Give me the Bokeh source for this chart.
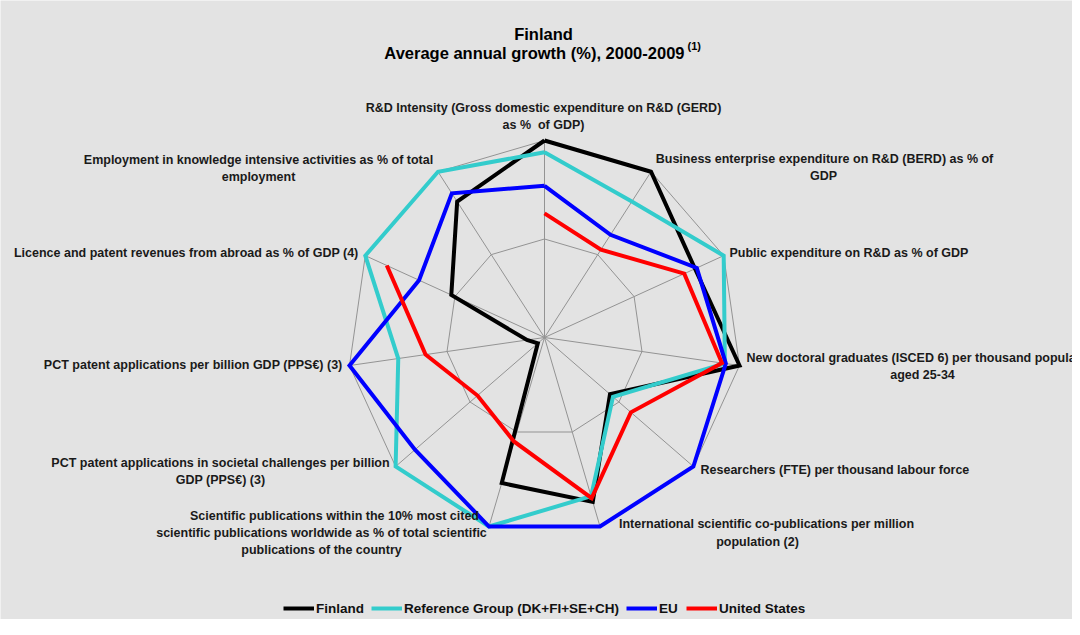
import math
from bokeh.plotting import figure
from bokeh.models import Range1d, Legend, LegendItem
from bokeh.core.properties import value
from bokeh.embed import file_html
from bokeh.resources import INLINE

# ---------------- data ----------------
indicators = [
    "R&D Intensity (Gross domestic expenditure on R&D (GERD) as %  of GDP)",
    "Business enterprise expenditure on R&D (BERD) as % of GDP",
    "Public expenditure on R&D as % of GDP",
    "New doctoral graduates (ISCED 6) per thousand population aged 25-34",
    "Researchers (FTE) per thousand labour force",
    "International scientific co-publications per million population (2)",
    "Scientific publications within the 10% most cited scientific publications worldwide as % of total scientific publications of the country",
    "PCT patent applications in societal challenges per billion GDP (PPS€) (3)",
    "PCT patent applications per billion GDP (PPS€) (3)",
    "Licence and patent revenues from abroad as % of GDP (4)",
    "Employment in knowledge intensive activities as % of total employment",
]

# label text as wrapped in the chart
indicator_lines = [
    ["R&D Intensity (Gross domestic expenditure on R&D (GERD)", "as %\u00a0 of GDP)"],
    ["Business enterprise expenditure on R&D (BERD) as % of", "GDP"],
    ["Public expenditure on R&D as % of GDP"],
    ["New doctoral graduates (ISCED 6) per thousand population", "aged 25-34"],
    ["Researchers (FTE) per thousand labour force"],
    ["International scientific co-publications per million", "population (2)"],
    ["Scientific publications within the 10% most cited",
     "scientific publications worldwide as % of total scientific",
     "publications of the country"],
    ["PCT patent applications in societal challenges per billion", "GDP (PPS€) (3)"],
    ["PCT patent applications per billion GDP (PPS€) (3)"],
    ["Licence and patent revenues from abroad as % of GDP (4)"],
    ["Employment in knowledge intensive activities as % of total", "employment"],
]

series_names = ["Finland", "Reference Group (DK+FI+SE+CH)", "EU", "United States"]
finland   = [10.0, 10.0, 8.4, 10.0, 4.4, 8.7, 7.7, 0.45, 0.9, 5.2, 8.2]
ref_group = [9.4, 8.2, 10.0, 9.25, 4.6, 8.4, 10.0, 10.0, 7.5, 10.0, 10.0]
eu        = [7.7, 6.2, 8.5, 9.3, 10.0, 10.0, 10.0, 8.7, 10.0, 7.0, 8.7]
us        = [6.3, 5.3, 7.8, 9.1, 5.8, 8.5, 5.5, 4.5, 6.1, 8.8, None]

scale_max = 10.0
ring_values = [5.0, 10.0]

title_line1 = "Finland"
title_line2 = "Average annual growth (%), 2000-2009"
title_note = "(1)"

# ---------------- layout ----------------
W, H = 1072, 619


def px(xp):
    return xp


def py(yp):
    return H - yp


CX, CY = px(544), py(337)
RADIUS = 197.0
N = len(indicators)
FONT = "Liberation Sans"

p = figure(width=W, height=H, output_backend="svg", toolbar_location=None,
           x_range=Range1d(0, W), y_range=Range1d(0, H), min_border=0,
           x_axis_location=None, y_axis_location=None,
           background_fill_color="#e3e3e3", border_fill_color="#e3e3e3",
           outline_line_color=None)
p.grid.visible = False


def polar(vals):
    xs, ys = [], []
    for k, v in enumerate(vals):
        th = 2 * math.pi * k / N
        if v is None:
            xs.append(float("nan"))
            ys.append(float("nan"))
        else:
            r = v / scale_max * RADIUS
            xs.append(CX + r * math.sin(th))
            ys.append(CY + r * math.cos(th))
    xs.append(xs[0])
    ys.append(ys[0])
    return xs, ys


# grid: rings and spokes
grid_col = "#939393"
for rv in ring_values:
    gx, gy = polar([rv] * N)
    p.line(gx, gy, line_color=grid_col, line_width=1)
ox, oy = polar([scale_max] * N)
p.segment(x0=[CX] * N, y0=[CY] * N, x1=ox[:-1], y1=oy[:-1],
          line_color=grid_col, line_width=1)

# series
colors = ["#000000", "#33CCCC", "#0000FF", "#FF0000"]
renderers = []
for vals, col in zip([finland, ref_group, eu, us], colors):
    sx, sy = polar(vals)
    r = p.line(sx, sy, line_color=col, line_width=4, line_join="miter")
    renderers.append(r)

# axis labels (pixel anchors)
label_layout = [
    ("center", [543, 543], [107, 124]),
    ("center", [824, 823], [158, 175]),
    ("left", [729], [252]),
    ("center", [922, 922], [357, 374]),
    ("left", [700], [469]),
    ("center", [766, 757], [523, 541]),
    ("center", [334, 321, 321], [515, 532, 549]),
    ("center", [220, 220], [462, 479]),
    ("right", [342], [364]),
    ("right", [358], [252]),
    ("center", [258, 258], [159, 176]),
]
groups = {"left": ([], [], []), "center": ([], [], []), "right": ([], [], [])}
for lines, (al, xs_, ys_) in zip(indicator_lines, label_layout):
    for t, xx, yy in zip(lines, xs_, ys_):
        groups[al][0].append(px(xx))
        groups[al][1].append(py(yy))
        groups[al][2].append(t)
for al, (gx, gy, gt) in groups.items():
    p.text(x=gx, y=gy, text=gt, text_align=al, text_baseline="middle",
           text_font=value(FONT), text_font_style="bold",
           text_font_size=value("12.5px"), text_color="#1a1a1a")

# title
p.text(x=[px(543)], y=[py(33)], text=[title_line1], text_align="center",
       text_baseline="middle", text_font=value(FONT), text_font_style="bold",
       text_font_size=value("16.5px"), text_color="#000000")
p.text(x=[px(684)], y=[py(52)], text=[title_line2], text_align="right",
       text_baseline="middle", text_font=value(FONT), text_font_style="bold",
       text_font_size=value("16.5px"), text_color="#000000")
p.text(x=[px(687)], y=[py(45)], text=[title_note], text_align="left",
       text_baseline="middle", text_font=value(FONT), text_font_style="bold",
       text_font_size=value("11px"), text_color="#000000")

# legend
legend = Legend(items=[LegendItem(label=n, renderers=[r]) for n, r in zip(series_names, renderers)],
                orientation="horizontal", location=(px(283), py(608) - 10),
                glyph_width=31, glyph_height=20, label_height=20,
                label_standoff=2, spacing=7, padding=0, margin=0,
                border_line_color=None, background_fill_alpha=0,
                label_text_font=FONT, label_text_font_style="bold",
                label_text_font_size="13.5px", label_text_color="#111111")
p.add_layout(legend)

open("out.html", "w").write(file_html(p, INLINE))
